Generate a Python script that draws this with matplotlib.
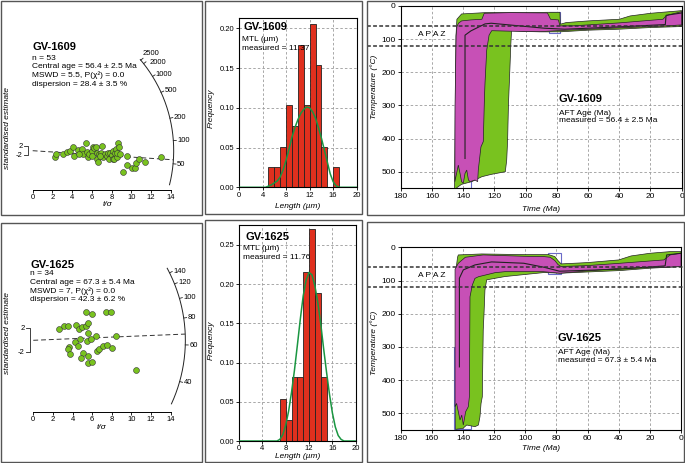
import numpy as np
import matplotlib.pyplot as plt
from matplotlib.patches import Rectangle

plt.rcParams['font.family'] = ['Liberation Sans', 'DejaVu Sans']

GREEN = '#79c21f'
MAGENTA = '#c750b6'
RED = '#e0301e'
CURVE = '#1a9641'

# ---- radial plot data (t/sigma, standardised estimate) ----
rad1609_x = [2.26, 2.36, 3.11, 3.45, 3.78, 4.12, 4.19, 4.56, 4.97, 5.37, 5.14, 5.54, 5.57, 5.74, 5.98,
             6.08, 6.25, 6.39, 6.49, 6.55, 6.66, 6.76, 6.93, 6.99, 7.16, 7.36, 7.50, 7.60, 7.77, 7.84,
             8.01, 8.18, 8.34, 8.45, 8.68, 8.11, 8.24, 8.51, 8.58, 8.78, 8.85, 9.53, 9.59, 9.12, 10.03,
             10.34, 10.44, 10.81, 11.39, 13.04, 5.98, 4.70, 6.82]
rad1609_y = [-2.55, -1.42, -1.42, -0.43, 0.0, 1.70, -2.27, 0.28, 0.57, 3.40, -1.56, -0.43, -2.55, -1.42, 0.0,
             1.70, 0.99, 1.70, -1.13, -3.69, -4.68, -1.42, -0.85, 2.13, -2.55, -1.42, -2.27, -1.13, -3.69, -0.85,
             -1.84, 0.0, -1.13, 0.71, 3.12, -3.69, -3.40, -2.55, -0.85, 1.42, -1.42, -2.27, -6.10, -8.94, -7.52,
             -7.52, -5.39, -3.69, -4.68, -2.55, -2.27, -1.42, -2.27]
rad1625_x = [2.65, 3.16, 3.57, 4.32, 4.69, 4.99, 5.37, 5.61, 5.37, 5.95, 7.37, 7.92, 5.61, 6.39, 4.76,
             4.25, 3.67, 3.57, 3.74, 4.52, 5.10, 5.50, 5.88, 4.86, 5.61, 5.61, 6.01, 6.52, 6.69, 7.14,
             7.48, 7.99, 8.43, 10.47]
rad1625_y = [1.81, 2.41, 2.41, 2.52, 1.86, 2.14, 2.36, 2.80, 4.61, 4.33, 4.61, 4.61, 1.15, 0.71, 0.16,
             -0.33, -1.04, -1.43, -2.25, -0.93, -2.14, -0.11, 0.22, -2.96, -2.58, -3.78, -3.56, -1.70, -1.43, -0.93,
             -0.71, -1.26, 0.71, -4.88]
arc1609_ticks = [50, 100, 200, 500, 1000, 2000, 2500]
arc1625_ticks = [40, 60, 80, 100, 120, 140]

# ---- track length histograms ----
len1609_bins = [5, 6, 7, 8, 9, 10, 11, 12, 13, 14, 15, 16]
len1609_freq = [0.026, 0.026, 0.051, 0.103, 0.077, 0.179, 0.103, 0.205, 0.154, 0.051, 0.0, 0.026]
len1625_bins = [7, 8, 9, 10, 11, 12, 13, 14]
len1625_freq = [0.054, 0.027, 0.081, 0.081, 0.216, 0.270, 0.189, 0.081]
curve1609_x = [0, 4.5, 5.5, 6.5, 7.0, 7.5, 8.0, 8.5, 9.0, 9.5, 10.0, 10.5, 11.0, 11.5, 12.0, 12.5,
               13.0, 13.5, 14.0, 14.5, 15.0, 15.5, 16.0, 16.5, 17.0, 20]
curve1609_y = [0, 0, 0.003, 0.008, 0.013, 0.022, 0.034, 0.048, 0.063, 0.075, 0.085, 0.093, 0.098, 0.101,
               0.100, 0.095, 0.087, 0.075, 0.062, 0.047, 0.032, 0.017, 0.007, 0.002, 0, 0]
curve1625_x = [0, 6.5, 7.0, 7.5, 8.0, 8.5, 9.0, 9.5, 10.0, 10.5, 11.0, 11.5, 12.0, 12.5, 13.0, 13.5,
               14.0, 14.5, 15.0, 15.5, 16.0, 16.5, 17.0, 17.5, 18, 20]
curve1625_y = [0, 0, 0.002, 0.008, 0.020, 0.038, 0.062, 0.090, 0.122, 0.155, 0.185, 0.205, 0.215, 0.212,
               0.198, 0.177, 0.150, 0.118, 0.088, 0.060, 0.036, 0.018, 0.007, 0.002, 0, 0]

# ---- thermal histories (time Ma, temperature C) ----
green1609_t = [145.5, 145.0, 144.6, 144.0, 141.0, 126, 100, 86, 78, 77.8, 74, 60, 40, 33, 20, 10, 0,
               0, 20, 40, 60, 78, 90, 100, 109, 109.5, 110, 111, 111.5, 112.1, 113,
               122, 128, 134.5, 141, 144]
green1609_T = [555, 300, 90, 40, 24, 20, 20, 19, 19, 55, 50, 45, 40, 30, 22, 18, 14,
               62, 65, 70, 73, 78, 78, 77, 74, 120, 183, 300, 404, 465, 500,
               508, 515, 530, 538, 548]
mag1609_t = [145.3, 145.2, 144.5, 144.0, 143, 141, 135, 128, 126.5, 110, 86, 84, 79, 78, 70, 40, 12, 10, 8.5, 0,
             0, 10, 40, 78, 91, 110, 121.7, 123.4, 124.9, 126, 126.4, 127.1, 128.6, 130.3, 130.7,
             132.4, 135.6, 136.6, 137.7, 138.8, 139.9, 141.0, 142.0, 143.1, 144.2]
mag1609_T = [530, 300, 90, 62, 52, 45, 42, 40, 22, 20, 21, 40, 42, 60, 60, 51, 40, 30, 27, 17,
             57, 60, 66, 74, 77.5, 76, 74.5, 88, 133, 233, 284, 409, 425, 495, 530,
             525, 530, 525, 495, 505, 535, 530, 505, 480, 505]
best1609_t = [138.8, 138.8, 135, 126, 122, 88, 75, 40, 15, 10.5, 10, 0]
best1609_T = [460, 88, 75, 54, 52, 67, 70, 63, 57, 56, 28, 21]
boxes1609 = [(145.5, 135, 300, 548), (85, 77.8, 19, 80)]

green1625_t = [144.8, 144.5, 144.3, 143.5, 143, 128, 101, 88.4, 85, 81, 79, 77, 60, 40, 32, 20, 7, 0,
               0, 20, 39, 77.7, 88, 113, 119, 124.8, 125.9, 126.5, 127, 127.6, 128.4, 129.1, 130.1,
               132.3, 137.6, 140, 144.8]
green1625_T = [548, 300, 60, 30, 23, 20, 22, 22, 22, 28, 40, 50, 46, 38, 26, 18, 13, 13,
               58, 63, 70, 78, 76, 88, 93, 98, 128.6, 200, 249, 450, 470, 510, 535,
               540, 535, 545, 548]
mag1625_t = [145.1, 145.1, 143, 138.5, 127, 101, 88, 84, 81, 79, 77, 60, 39, 11, 7, 0.6, 0,
             0, 10, 39, 77.7, 88.4, 113, 119.4, 130, 132.3, 134, 135.5, 135.9, 136.6, 138.3,
             139.8, 140.8, 141.9, 144.1]
mag1625_T = [480, 66, 48, 30, 23, 27, 28, 30, 40, 52, 58, 55, 48, 38, 23, 18, 18,
             58, 60, 63, 78, 73.4, 73.4, 76.4, 88.5, 93.5, 113.6, 149, 450, 480, 495,
             535, 505, 520, 470]
best1625_t = [142.3, 142.3, 139.8, 132.3, 121.6, 101, 88, 78, 40, 10.2, 9.2, 0]
best1625_T = [360, 93, 68, 53, 44, 48, 60, 72, 66, 56, 23, 18]
boxes1625 = [(145.6, 135, 300, 548), (85.2, 77, 18, 80)]

W, H = 685, 463
fig = plt.figure(figsize=(W / 100, H / 100), dpi=100)
fig.patch.set_facecolor('white')


def px_axes(x0, y0, x1, y1):
    return fig.add_axes([x0 / W, 1 - y1 / H, (x1 - x0) / W, (y1 - y0) / H])


def ftext(px, py, s, **kw):
    kw.setdefault('fontsize', 6)
    kw.setdefault('va', 'center')
    fig.text(px / W, 1 - py / H, s, **kw)


# panel frames
for x0, y0, x1, y1 in [(1, 1, 201.5, 215), (205, 1, 362, 214), (366.5, 1, 684, 215),
                       (1, 223, 201.5, 461.5), (205, 220, 362, 461.5), (366.5, 222, 684, 461.5)]:
    fig.add_artist(Rectangle((x0 / W, 1 - y1 / H), (x1 - x0) / W, (y1 - y0) / H,
                             transform=fig.transFigure, fill=False, ec='#555555', lw=1.0))


def radial_panel(rect, ox, oy, sx, a, t0, R, tlim, xs, ys, ticks, central, axis_py, bx, nudge=None):
    nudge = nudge or {}
    x0, y0, x1, y1 = rect
    sy = a * sx
    ax = px_axes(*rect)
    ax.set_xlim((x0 - ox) / sx, (x1 - ox) / sx)
    ax.set_ylim((oy - y1) / sy, (oy - y0) / sy)
    ax.patch.set_visible(False)
    for s in ['top', 'right', 'left']:
        ax.spines[s].set_visible(False)
    yax = (oy - axis_py) / sy
    ax.spines['bottom'].set_position(('data', yax))
    ax.spines['bottom'].set_bounds(0, 14)
    ax.spines['bottom'].set_linewidth(0.7)
    ax.set_xticks(range(0, 15, 2))
    ax.set_yticks([])
    ax.tick_params(axis='x', labelsize=5.5, length=2.5, width=0.6, pad=0.6)
    # age arc
    tt = np.geomspace(tlim[0], tlim[1], 300)
    th = np.arctan(a * np.log(tt / t0))
    ax.plot(R * np.cos(th), R * np.sin(th) / a, color='#222222', lw=0.7)
    for t in ticks:
        th = np.arctan(a * np.log(t / t0))
        c, s = np.cos(th), np.sin(th)
        ax.plot([R * c, (R + 0.3) * c], [R * s / a, (R + 0.3) * s / a], color='#222222', lw=0.6)
        ax.annotate(str(t), ((R + 0.4) * c, (R + 0.4) * s / a), xytext=nudge.get(t, (0, 0)),
                    textcoords='offset points', fontsize=5.5, ha='left', va='center')
    # central age line
    thc = np.arctan(a * np.log(central / t0))
    ax.plot([0, R * np.cos(thc)], [0, R * np.sin(thc) / a], ls=(0, (5, 3)), color='#333333', lw=0.7)
    # +-2 bracket
    ax.plot([bx - 0.4, bx, bx, bx - 0.4], [2, 2, -2, -2], color='#222222', lw=0.6)
    ax.text(bx - 0.55, 2, '2', fontsize=5.5, ha='right', va='center')
    ax.text(bx - 0.55, -2, '-2', fontsize=5.5, ha='right', va='center')
    ax.scatter(xs, ys, s=18, c=GREEN, edgecolors='#333333', linewidths=0.4, zorder=3)
    return ax


radial_panel((4, 30, 200, 212), 32.7, 150.7, 9.86, 0.238, 74, 14.3, (26, 2600),
             rad1609_x, rad1609_y, arc1609_ticks, 56.4, 190, -0.45,
             nudge={2500: (-1, 3), 2000: (2, -1)})
radial_panel((4, 250, 200, 445), 33.3, 340.3, 9.81, 0.62, 63, 15.5, (30, 150),
             rad1625_x, rad1625_y, arc1625_ticks, 67.3, 411.7, -0.35)

ftext(32.5, 46.7, 'GV-1609', fontsize=8, fontweight='bold')
ftext(32.5, 58, 'n = 53')
ftext(32.5, 66.7, 'Central age = 56.4 ± 2.5 Ma')
ftext(32.5, 75.5, 'MSWD = 5.5, P(χ²) = 0.0')
ftext(32.5, 84.5, 'dispersion = 28.4 ± 3.5 %')
ftext(30.5, 264.7, 'GV-1625', fontsize=8, fontweight='bold')
ftext(30.5, 273.7, 'n = 34')
ftext(30.5, 282.3, 'Central age = 67.3 ± 5.4 Ma')
ftext(30.5, 291, 'MSWD = 7, P(χ²) = 0.0')
ftext(30.5, 299.7, 'dispersion = 42.3 ± 6.2 %')
for py in (128, 333):
    ftext(7.5, py, 'standardised estimate', rotation=90, style='italic', ha='center')
ftext(107.7, 204.5, 't/σ', style='italic', ha='center')
ftext(101.7, 427.5, 't/σ', style='italic', ha='center')


def hist_panel(rect, ytop, bins, freq, cx, cy, yticks):
    ax = px_axes(*rect)
    ax.bar(bins, freq, width=1, align='edge', color=RED, edgecolor='#222222', lw=0.6, zorder=2)
    ax.plot(cx, cy, color=CURVE, lw=1.1, zorder=3)
    ax.set_xlim(0, 20)
    ax.set_ylim(0, ytop)
    ax.set_xticks(range(0, 21, 4))
    ax.set_yticks(yticks)
    ax.set_yticklabels(['%.2f' % v for v in yticks])
    ax.grid(True, ls=(0, (3, 2.5)), color='#9a9a9a', lw=0.6)
    ax.set_axisbelow(True)
    ax.tick_params(labelsize=5.5, length=2, width=0.6, pad=1.2)
    for s in ax.spines.values():
        s.set_linewidth(0.8)
    return ax


hist_panel((239, 18.3, 356.7, 187.3), 0.2125, len1609_bins, len1609_freq, curve1609_x, curve1609_y,
           [0, 0.05, 0.10, 0.15, 0.20])
hist_panel((239, 225, 355.7, 441), 0.2755, len1625_bins, len1625_freq, curve1625_x, curve1625_y,
           [0, 0.05, 0.10, 0.15, 0.20, 0.25])

ftext(244, 27, 'GV-1609', fontsize=8, fontweight='bold')
ftext(242, 39.3, 'MTL (µm)')
ftext(242, 48.3, 'measured = 11.37')
ftext(245, 236.7, 'GV-1625', fontsize=8, fontweight='bold')
ftext(243.3, 249, 'MTL (µm)')
ftext(243.3, 257.7, 'measured = 11.76')
ftext(211, 108, 'Frequency', rotation=90, style='italic', ha='center')
ftext(211, 340, 'Frequency', rotation=90, style='italic', ha='center')
ftext(297.5, 206, 'Length (µm)', style='italic', ha='center')
ftext(298, 456.5, 'Length (µm)', style='italic', ha='center')


def thermal_panel(rect, gt, gT, mt, mT, bt, bT, boxes):
    ax = px_axes(*rect)
    ax.set_xlim(180, 0)
    ax.set_ylim(550, 0)
    ax.set_xticks(range(180, -1, -20))
    ax.set_yticks(range(0, 501, 100))
    ax.grid(True, ls=(0, (3, 2.5)), color='#9a9a9a', lw=0.6)
    ax.set_axisbelow(True)
    for ta, tb, Ta, Tb in boxes:
        ax.add_patch(Rectangle((tb, Ta), ta - tb, Tb - Ta, fill=False, ec='#6a6ac8', lw=0.8, zorder=2))
    ax.fill(gt, gT, fc=GREEN, ec='#222222', lw=0.5, zorder=3)
    ax.fill(mt, mT, fc=MAGENTA, ec='#222222', lw=0.5, zorder=4)
    ax.plot(bt, bT, color='#222222', lw=0.8, zorder=5)
    for T in (60, 120):
        ax.plot([201.6, -1.5], [T, T], ls=(0, (2.5, 1.5)), color='#333333', lw=1.1,
                clip_on=False, zorder=6)
    ax.text(168.7, 85, 'A P A Z', fontsize=6, ha='left', va='center', zorder=7)
    ax.tick_params(labelsize=6, length=2, width=0.6, pad=1.5)
    for s in ax.spines.values():
        s.set_linewidth(0.8)
    return ax


thermal_panel((400.7, 6, 681.7, 188.3), green1609_t, green1609_T, mag1609_t, mag1609_T,
              best1609_t, best1609_T, boxes1609)
thermal_panel((400.7, 247.3, 681, 430), green1625_t, green1625_T, mag1625_t, mag1625_T,
              best1625_t, best1625_T, boxes1625)

ftext(558.3, 99.3, 'GV-1609', fontsize=8, fontweight='bold')
ftext(559.3, 113.5, 'AFT Age (Ma)')
ftext(559.3, 121, 'measured = 56.4 ± 2.5 Ma')
ftext(557.3, 338.3, 'GV-1625', fontsize=8, fontweight='bold')
ftext(558.3, 352, 'AFT Age (Ma)')
ftext(558.3, 360.7, 'measured = 67.3 ± 5.4 Ma')
ftext(374.3, 86.7, 'Temperature (°C)', rotation=90, style='italic', ha='center')
ftext(374.3, 343.3, 'Temperature (°C)', rotation=90, style='italic', ha='center')
ftext(541.2, 209.3, 'Time (Ma)', style='italic', ha='center')
ftext(540.8, 449, 'Time (Ma)', style='italic', ha='center')

fig.savefig('out.png', dpi=100)
